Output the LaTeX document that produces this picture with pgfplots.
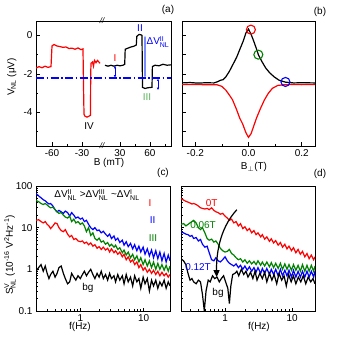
\documentclass[border=0pt]{standalone}
\usepackage{fontspec}
\setmainfont{Liberation Sans}
\usepackage{amsmath}
\usepackage{pgfplots}
\pgfplotsset{compat=1.18}
\usetikzlibrary{arrows.meta}

\definecolor{myblue}{RGB}{0,0,255}
\definecolor{mygreen}{RGB}{0,130,0}
\definecolor{lblue}{RGB}{120,140,255}
\definecolor{lgreen}{RGB}{90,180,90}

\pgfplotsset{
  panel/.style={
    scale only axis, anchor=south west, height=125bp,
    tick align=inside, tick pos=left,
    axis line style={line width=0.8bp},
    major tick length=3.5bp, minor tick length=2bp,
    every tick/.style={line width=0.6bp, black},
    ticklabel style={font=\fontsize{10}{10}\selectfont},
    /pgf/number format/assume math mode=true,
    clip mode=individual,
  },
  dat/.style={line width=1.2bp},
}
\tikzset{arr/.style={line width=0.6bp, {Latex[length=2.5bp,width=2.2bp]}-{Latex[length=2.5bp,width=2.2bp]}}}

\begin{document}
\begin{tikzpicture}
\path[use as bounding box] (0bp,0bp) rectangle (339bp,339bp);

% (a) broken B axis: plotted coordinate t, right branch shifted
\begin{axis}[panel, at={(36bp,193bp)}, width=135bp,
  xmin=-76, xmax=59, ymin=-5.75, ymax=0.75,
  xtick={-60,-30,8,38}, xticklabels={-60,-30,30,60},
  minor xtick={-45,23,53},
  ytick={-4,-2,0}, yticklabels={-4,-2,0}, minor ytick={-5,-3,-1}]
\addplot[dat, red] coordinates {
(-76,-1.7) (-73,-1.62) (-70,-1.68) (-67,-1.6) (-64,-1.66) (-61,-1.62)
(-60,-0.55) (-58,-0.47) (-55,-0.55) (-52,-0.58) (-49,-0.62) (-46,-0.6)
(-43,-0.68) (-40,-0.66) (-37,-0.72) (-34,-0.65) (-31,-0.74) (-29,-0.7)
(-28.5,-2.6) (-28,-4.1) (-27,-4.2) (-25,-4.25) (-23,-4.2) (-21.5,-4.15)
(-21.3,-2.0) (-21,-1.45) (-19.5,-1.38) (-18.5,-1.6) (-17.5,-1.3) (-16,-1.42)
(-14.5,-1.3) (-12,-1.45)};
\addplot[dat, black] coordinates {
(-7,-1.55) (-4,-1.6) (-1,-1.55) (2,-1.6) (5,-1.55) (8,-1.58) (11,-1.55)
(12.7,-1.5) (13.2,-0.72) (16,-0.66) (19,-0.6) (22,-0.56) (24.3,-0.5)
(24.8,-0.05) (27,0.05) (29,0.03) (30,0.0) (30.5,-2.7) (33,-2.76) (36,-2.72)
(40,-2.7) (40.4,-1.62) (43,-1.55) (47,-1.58) (51,-1.5) (55,-1.55) (59,-1.53)};
\addplot[myblue, line width=1.4bp, dash pattern=on 8bp off 2.5bp on 1.5bp off 2.5bp]
  coordinates {(-76,-2.22) (59,-2.22)};
\draw[arr, myblue] (axis cs:3,-1.58) -- (axis cs:3,-2.2);
\draw[arr, lblue, line width=1.3bp] (axis cs:33,0.0) -- (axis cs:33,-2.2);
\draw[arr, myblue] (axis cs:46,-2.24) -- (axis cs:46,-2.85);
\node[inner sep=0, font=\fontsize{8}{8}\selectfont\itshape] at (axis cs:-10,0.75) {//};
\node[inner sep=0, font=\fontsize{8}{8}\selectfont\itshape] at (axis cs:-10,-5.75) {//};
\end{axis}

% (b)
\begin{axis}[panel, at={(182bp,193bp)}, width=133bp,
  xmin=-0.25, xmax=0.25, ymin=-5.75, ymax=0.75,
  xtick={-0.2,0,0.2}, xticklabels={-0.2,0.0,0.2}, minor xtick={-0.1,0.1},
  ytick={-5,-4,-3,-2,-1,0}, yticklabels={}]
\addplot[dat, red] coordinates {
(-0.25,-2.56) (-0.2,-2.55) (-0.15,-2.57) (-0.12,-2.56) (-0.1,-2.65)
(-0.085,-2.85) (-0.072,-3.1) (-0.06,-3.35) (-0.045,-3.85) (-0.033,-4.3)
(-0.022,-4.6) (-0.01,-5.05) (0.0,-5.3) (0.01,-5.1) (0.02,-4.7) (0.03,-4.3)
(0.045,-3.8) (0.06,-3.35) (0.075,-3.0) (0.09,-2.75) (0.11,-2.6) (0.13,-2.57)
(0.16,-2.55) (0.2,-2.56) (0.25,-2.55)};
\addplot[dat, black] coordinates {
(-0.25,-2.47) (-0.22,-2.45) (-0.19,-2.48) (-0.16,-2.46) (-0.13,-2.47)
(-0.115,-2.4) (-0.105,-2.33) (-0.095,-2.3) (-0.085,-2.15) (-0.072,-1.87)
(-0.06,-1.55) (-0.045,-1.15) (-0.033,-0.74) (-0.02,-0.3) (-0.01,0.12)
(0.0,0.33) (0.01,0.05) (0.02,-0.31) (0.03,-0.7) (0.037,-1.0) (0.05,-1.35)
(0.065,-1.7) (0.08,-1.95) (0.097,-2.16) (0.115,-2.33) (0.139,-2.43)
(0.17,-2.47) (0.2,-2.46) (0.25,-2.47)};
\draw[red, line width=1.1bp] (axis cs:0.009,0.3) circle[radius=4.5bp];
\draw[mygreen, line width=1.1bp] (axis cs:0.037,-1.0) circle[radius=4.5bp];
\draw[myblue, line width=1.1bp] (axis cs:0.139,-2.42) circle[radius=4.5bp];
\end{axis}

% (c)
\begin{axis}[panel, at={(36bp,28bp)}, width=134bp,
  xmode=log, ymode=log, xmin=0.2, xmax=26, ymin=0.1, ymax=100,
  log ticks with fixed point]
\addplot[dat, myblue] coordinates {
(0.20,66) (0.22,58) (0.24,52) (0.26,47) (0.28,44) (0.30,40) (0.32,37) (0.34,38)
(0.37,33) (0.40,27) (0.43,24) (0.46,26) (0.50,24) (0.54,22) (0.58,25) (0.63,23)
(0.68,19) (0.73,23) (0.79,20) (0.85,17) (0.92,18) (1.0,16) (1.08,17) (1.16,14)
(1.25,15) (1.35,12) (1.46,10) (1.58,9) (1.70,10) (1.84,8.5) (1.98,8.8) (2.14,7.5)
(2.31,8.2) (2.5,7.0) (2.7,6.2) (2.9,7.0) (3.1,5.5) (3.4,6.3) (3.6,5.0) (3.9,5.6)
(4.2,4.4) (4.6,5.0) (4.9,3.8) (5.3,4.6) (5.7,3.5) (6.2,4.2) (6.7,3.1) (7.2,3.9)
(7.8,2.8) (8.4,3.6) (9.0,2.6) (9.8,3.4) (10.5,2.3) (11.4,3.1) (12.3,2.1) (13.3,2.9)
(14.3,1.9) (15.5,2.8) (16.7,1.8) (18.0,2.6) (19.4,1.6) (21,2.4) (22.6,1.5) (24.4,2.2) (26,1.6)};
\addplot[dat, mygreen] coordinates {
(0.20,45) (0.22,42) (0.24,38) (0.26,36) (0.28,38) (0.30,35) (0.32,32) (0.34,30)
(0.37,31) (0.40,27) (0.43,24) (0.46,22) (0.50,23) (0.54,20) (0.58,18) (0.63,17)
(0.68,19) (0.73,14) (0.79,16) (0.85,13) (0.92,14) (1.0,12) (1.08,13) (1.16,11)
(1.25,8) (1.35,10) (1.46,6.5) (1.58,7.5) (1.70,5.5) (1.84,5.0) (1.98,5.6) (2.14,4.5)
(2.31,4.8) (2.5,4.0) (2.7,4.4) (2.9,3.6) (3.1,4.0) (3.4,3.4) (3.6,3.8) (3.9,3.0)
(4.2,3.3) (4.6,2.5) (4.9,2.9) (5.3,2.2) (5.7,2.6) (6.2,1.9) (6.7,2.3) (7.2,1.7)
(7.8,2.1) (8.4,1.5) (9.0,1.9) (9.8,1.3) (10.5,1.7) (11.4,1.2) (12.3,1.6) (13.3,1.1)
(14.3,1.5) (15.5,1.0) (16.7,1.4) (18.0,1.0) (19.4,1.3) (21,0.95) (22.6,1.25) (24.4,0.9) (26,1.2)};
\addplot[dat, red] coordinates {
(0.20,15) (0.22,15.5) (0.24,14) (0.26,13) (0.28,14) (0.30,12) (0.32,11) (0.34,9.5)
(0.37,11) (0.40,13) (0.43,12.5) (0.46,10) (0.50,8.5) (0.54,8) (0.58,9) (0.63,7)
(0.68,6) (0.73,6.5) (0.79,5.2) (0.85,5.5) (0.92,4.8) (1.0,4.6) (1.08,4.8) (1.16,4.2)
(1.25,4.5) (1.35,3.9) (1.46,4.3) (1.58,3.6) (1.70,3.9) (1.84,3.2) (1.98,3.5) (2.14,3.0)
(2.31,3.4) (2.5,2.9) (2.7,3.2) (2.9,2.6) (3.1,3.1) (3.4,2.5) (3.6,2.8) (3.9,2.3)
(4.2,2.6) (4.6,2.0) (4.9,2.3) (5.3,1.7) (5.7,2.0) (6.2,1.5) (6.7,1.7) (7.2,1.3)
(7.8,1.5) (8.4,1.1) (9.0,1.3) (9.8,0.95) (10.5,1.1) (11.4,0.85) (12.3,1.0) (13.3,0.8)
(14.3,0.95) (15.5,0.75) (16.7,0.9) (18.0,0.7) (19.4,0.85) (21,0.7) (22.6,0.8) (24.4,0.65) (26,0.75)};
\addplot[dat, black] coordinates {
(0.20,0.9) (0.22,1.1) (0.24,1.3) (0.26,0.9) (0.28,1.2) (0.30,0.8) (0.32,0.6) (0.34,0.75)
(0.37,0.9) (0.40,0.65) (0.43,0.8) (0.46,1.1) (0.50,1.2) (0.54,0.8) (0.58,0.6) (0.63,0.45)
(0.68,0.5) (0.73,0.8) (0.79,0.65) (0.85,0.55) (0.92,0.7) (1.0,0.6) (1.08,0.75) (1.16,0.9)
(1.25,0.7) (1.35,0.85) (1.46,1.0) (1.58,0.75) (1.70,0.6) (1.84,0.8) (1.98,0.65) (2.14,0.9)
(2.31,0.6) (2.5,0.75) (2.7,0.55) (2.9,0.8) (3.1,0.6) (3.4,0.7) (3.6,0.5) (3.9,0.75)
(4.2,0.55) (4.6,0.7) (4.9,0.45) (5.3,0.75) (5.7,0.5) (6.2,0.65) (6.7,0.4) (7.2,0.7)
(7.8,0.5) (8.4,0.6) (9.0,0.35) (9.8,0.65) (10.5,0.45) (11.4,0.6) (12.3,0.3) (13.3,0.55)
(14.3,0.4) (15.5,0.55) (16.7,0.35) (18.0,0.5) (19.4,0.4) (21,0.55) (22.6,0.35) (24.4,0.5) (26,0.4)};
\end{axis}

% (d)
\begin{axis}[panel, at={(181bp,28bp)}, width=134bp,
  xmode=log, ymode=log, xmin=0.22, xmax=22, ymin=0.1, ymax=100,
  log ticks with fixed point, yticklabels={}]
\addplot[dat, red] coordinates {
(0.22,50) (0.24,46) (0.26,43) (0.28,41) (0.30,39) (0.32,37) (0.34,38) (0.37,36)
(0.40,33) (0.43,30) (0.46,29) (0.50,28) (0.54,29) (0.58,27) (0.63,30) (0.68,26)
(0.73,24) (0.79,23) (0.85,21) (0.92,22) (1.0,19) (1.08,17) (1.16,15) (1.25,16)
(1.35,13) (1.46,14) (1.58,11) (1.70,12.5) (1.84,9.5) (1.98,10.5) (2.14,8.5) (2.31,9.5)
(2.5,7.5) (2.7,8.5) (2.9,6.8) (3.1,7.5) (3.4,6.0) (3.6,6.8) (3.9,5.3) (4.2,6.0)
(4.6,4.7) (4.9,5.4) (5.3,4.3) (5.7,4.9) (6.2,3.8) (6.7,4.4) (7.2,3.4) (7.8,4.0)
(8.4,3.1) (9.0,3.6) (9.8,2.8) (10.5,3.3) (11.4,2.5) (12.3,3.0) (13.3,2.3) (14.3,2.7)
(15.5,2.0) (16.7,2.4) (18.0,1.8) (19.4,2.2) (21,1.7) (22,2.0)};
\addplot[dat, mygreen] coordinates {
(0.22,12) (0.24,12.5) (0.26,11) (0.28,12) (0.30,13) (0.32,14) (0.34,15) (0.37,13)
(0.40,10) (0.43,9) (0.46,10) (0.50,7.5) (0.54,5.5) (0.58,5) (0.63,5.3) (0.68,4.5)
(0.73,4.8) (0.79,4) (0.85,3.2) (0.92,2.8) (1.0,2.6) (1.08,2.7) (1.16,3) (1.25,2.4)
(1.35,2.2) (1.46,1.9) (1.58,1.7) (1.70,1.8) (1.84,1.5) (1.98,1.7) (2.14,1.4) (2.31,1.6)
(2.5,1.35) (2.7,1.55) (2.9,1.3) (3.1,1.6) (3.4,1.25) (3.6,1.5) (3.9,1.2) (4.2,1.5)
(4.6,1.15) (4.9,1.45) (5.3,1.1) (5.7,1.4) (6.2,1.05) (6.7,1.4) (7.2,1.0) (7.8,1.35)
(8.4,1.0) (9.0,1.3) (9.8,0.95) (10.5,1.3) (11.4,0.95) (12.3,1.25) (13.3,0.9) (14.3,1.3)
(15.5,0.9) (16.7,1.25) (18.0,0.9) (19.4,1.25) (21,0.9) (22,1.2)};
\addplot[dat, myblue] coordinates {
(0.22,8) (0.24,7.5) (0.26,7) (0.28,6.8) (0.30,6.2) (0.32,6.5) (0.34,5.5) (0.37,5.8)
(0.40,4.8) (0.43,5.2) (0.46,4) (0.50,3.4) (0.54,3.6) (0.58,2.5) (0.63,1.7) (0.68,1.6)
(0.73,1.9) (0.79,1.6) (0.85,1.5) (0.92,1.7) (1.0,2.0) (1.08,1.6) (1.16,1.4) (1.25,1.3)
(1.35,1.2) (1.46,1.35) (1.58,1.1) (1.70,1.25) (1.84,1.0) (1.98,1.2) (2.14,0.95) (2.31,1.15)
(2.5,0.9) (2.7,1.1) (2.9,0.85) (3.1,1.1) (3.4,0.8) (3.6,1.05) (3.9,0.8) (4.2,1.05)
(4.6,0.75) (4.9,1.0) (5.3,0.75) (5.7,1.0) (6.2,0.7) (6.7,1.0) (7.2,0.7) (7.8,0.95)
(8.4,0.7) (9.0,0.95) (9.8,0.65) (10.5,0.95) (11.4,0.65) (12.3,0.9) (13.3,0.65) (14.3,0.9)
(15.5,0.65) (16.7,0.9) (18.0,0.65) (19.4,0.9) (21,0.65) (22,0.9)};
\addplot[dat, black] coordinates {
(0.22,1.8) (0.24,1.6) (0.26,1.3) (0.28,0.8) (0.30,0.55) (0.32,0.6) (0.34,0.5) (0.37,0.45)
(0.40,0.55) (0.43,0.5) (0.46,0.25) (0.49,0.1) (0.52,0.3) (0.56,0.55) (0.60,0.5) (0.65,0.7)
(0.70,0.6) (0.76,0.65) (0.82,0.5) (0.88,0.6) (0.95,0.7) (1.02,0.5) (1.1,0.35) (1.16,0.15)
(1.22,0.4) (1.3,0.75) (1.4,0.8) (1.5,0.9) (1.6,0.7) (1.75,1.0) (1.9,0.75) (2.05,0.9)
(2.2,0.65) (2.4,0.85) (2.6,0.6) (2.8,0.9) (3.0,0.55) (3.3,0.8) (3.6,0.6) (3.9,0.85)
(4.2,0.5) (4.6,0.8) (5.0,0.55) (5.4,0.75) (5.9,0.45) (6.4,0.8) (7.0,0.55) (7.6,0.7)
(8.2,0.4) (8.9,0.75) (9.7,0.5) (10.5,0.7) (11.4,0.45) (12.4,0.65) (13.5,0.5) (14.7,0.7)
(16,0.45) (17.4,0.65) (19,0.5) (20.5,0.6) (22,0.45)};
\draw[line width=1.2bp, -{Triangle[length=7bp,width=6bp]}] (axis cs:1.5,27) .. controls (axis cs:0.8,9) and (axis cs:0.74,2) .. (axis cs:0.75,0.65);
\end{axis}

% labels
\begin{scope}[font=\fontsize{10}{11}\selectfont, inner sep=0]
\node at (168bp,329bp) {(a)};
\node at (320bp,327bp) {(b)};
\node at (163bp,166bp) {(c)};
\node at (320bp,165bp) {(d)};
\node at (109bp,176bp) {B (mT)};
\node at (254bp,172bp) {B$_{\perp}$(T)};
\node at (80bp,12bp) {f(Hz)};
\node at (259bp,12bp) {f(Hz)};
\node[rotate=90] at (11.7bp,262bp) {V$_{\text{NL}}$ (μV)};
\node[rotate=90] at (10bp,84bp) {S$^{\text{V}}_{\text{NL}}$ (10$^{\text{-16}}$ V$^{\text{2}}$Hz$^{\text{-1}}$)};
\node[red] at (115bp,281bp) {I};
\node[myblue] at (140bp,311bp) {II};
\node[lgreen] at (147bp,242bp) {III};
\node at (89bp,213bp) {IV};
\node[myblue] at (158bp,297bp) {ΔV$^{\text{II}}_{\text{NL}}$};
\node at (97bp,144bp) {ΔV$^{\text{II}}_{\text{NL}}$ >ΔV$^{\text{III}}_{\text{NL}}$ \textasciitilde ΔV$^{\text{I}}_{\text{NL}}$};
\node[red] at (150bp,136bp) {I};
\node[myblue] at (152.7bp,119bp) {II};
\node[mygreen] at (153bp,101bp) {III};
\node at (88bp,51bp) {bg};
\node[red] at (211.7bp,135.7bp) {0T};
\node[mygreen] at (203bp,114bp) {0.06T};
\node[myblue] at (198bp,72.3bp) {0.12T};
\node at (218bp,46.3bp) {bg};
\end{scope}
\end{tikzpicture}
\end{document}
